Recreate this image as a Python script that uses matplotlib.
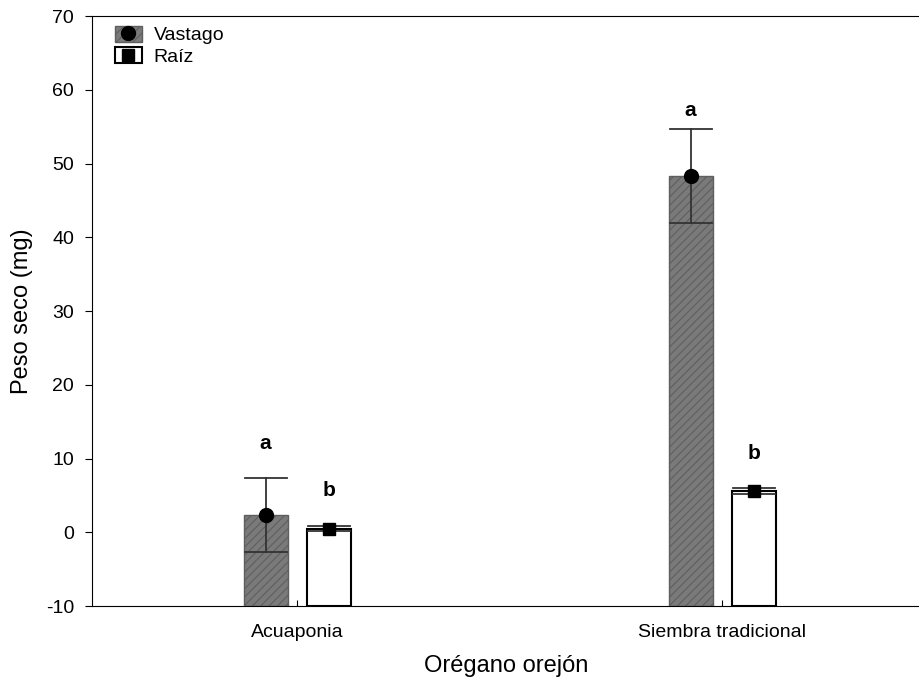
import numpy as np
import matplotlib
matplotlib.use('Agg')
import matplotlib.pyplot as plt
from matplotlib.patches import Patch
from matplotlib.lines import Line2D

plt.rcParams['font.family'] = ['Liberation Sans', 'DejaVu Sans']
plt.rcParams['hatch.linewidth'] = 0.8
plt.rcParams['axes.unicode_minus'] = False

categories = ['Acuaponia', 'Siembra tradicional']
vastago = [2.3, 48.3]
vastago_err = [5.0, 6.4]
raiz = [0.5, 5.6]
raiz_err = [0.3, 0.4]
vastago_letters = ['a', 'a']
raiz_letters = ['b', 'b']
vastago_letter_y = [12.1, 57.2]
raiz_letter_y = [5.7, 10.7]

base = -10
x = np.arange(len(categories))
off = 0.075
w = 0.103

fig = plt.figure(figsize=(9.2, 6.79), dpi=100)
ax = fig.add_axes([0.1, 0.1075, 0.9, 0.8689])

# vastago bars (hatched gray)
ax.bar(x - off, np.array(vastago) - base, w, bottom=base, color='#7a7a7a',
       edgecolor='#5e5e5e', hatch='////', linewidth=1.0, zorder=2)
# raiz bars (white)
ax.bar(x + off, np.array(raiz) - base, w, bottom=base, color='white',
       edgecolor='black', linewidth=1.5, zorder=2)

# error bars + means
cap = w / 2 * 0.96
for xi, m, e in zip(x - off, vastago, vastago_err):
    ax.plot([xi, xi], [m - e, m + e], color='#333333', lw=1.3, zorder=3)
    ax.plot([xi - cap, xi + cap], [m + e] * 2, color='#333333', lw=1.3, zorder=3)
    ax.plot([xi - cap, xi + cap], [m - e] * 2, color='#333333', lw=1.3, zorder=3)
for xi, m, e in zip(x + off, raiz, raiz_err):
    ax.plot([xi, xi], [m - e, m + e], color='#333333', lw=1.3, zorder=3)
    ax.plot([xi - cap, xi + cap], [m + e] * 2, color='#333333', lw=1.3, zorder=3)
    ax.plot([xi - cap, xi + cap], [m - e] * 2, color='#333333', lw=1.3, zorder=3)

ax.plot(x - off, vastago, 'o', color='black', ms=10, zorder=4, linestyle='none')
ax.plot(x + off, raiz, 's', color='black', ms=9, zorder=4, linestyle='none')

# letters
for xi, yl, t in zip(x - off, vastago_letter_y, vastago_letters):
    ax.text(xi, yl, t, ha='center', va='center', fontsize=15, fontweight='bold')
for xi, yl, t in zip(x + off, raiz_letter_y, raiz_letters):
    ax.text(xi, yl, t, ha='center', va='center', fontsize=15, fontweight='bold')

ax.set_xlim(-0.4835, 1.4647)
ax.set_ylim(-10, 70)
ax.set_yticks(np.arange(-10, 71, 10))
ax.set_xticks(x)
ax.set_xticklabels(categories)
ax.tick_params(axis='y', direction='out', length=5, labelsize=14, pad=8)
ax.tick_params(axis='x', direction='in', length=4, labelsize=14, pad=13)
ax.spines['right'].set_visible(False)
ax.set_ylabel('Peso seco (mg)', fontsize=17, labelpad=9)
ax.set_xlabel('Orégano orejón', fontsize=17, labelpad=10)

h1 = (Patch(facecolor='#7a7a7a', edgecolor='#5e5e5e', hatch='////'),
      Line2D([], [], marker='o', color='black', ms=10, linestyle='none'))
h2 = (Patch(facecolor='white', edgecolor='black', linewidth=1.5),
      Line2D([], [], marker='s', color='black', ms=9, linestyle='none'))
ax.legend([h1, h2], ['Vastago', 'Raíz'], loc='upper left', frameon=False,
          fontsize=14, handlelength=1.4, handleheight=0.9, handletextpad=0.6,
          labelspacing=0.15, borderaxespad=0.0, bbox_to_anchor=(0.018, 0.997))

fig.savefig('out.png', dpi=100)
